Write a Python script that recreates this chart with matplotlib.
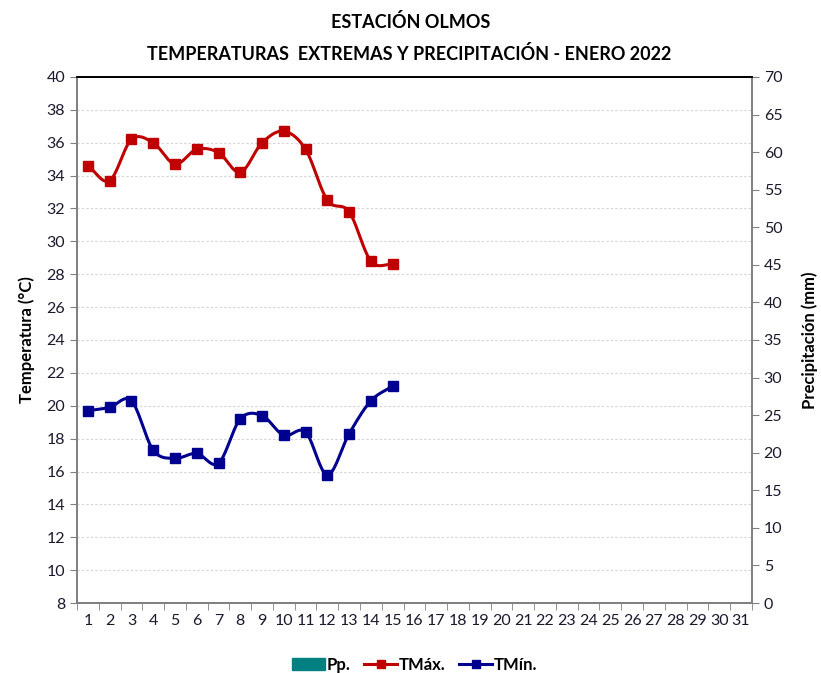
import numpy as np
import matplotlib
matplotlib.use("Agg")
import matplotlib.pyplot as plt
from matplotlib.patches import Patch
from matplotlib.lines import Line2D

plt.rcParams['font.family'] = ['Lato', 'DejaVu Sans']

# datos
dias = list(range(1, 32))
dias_obs = list(range(1, 16))
tmax = [34.6, 33.7, 36.2, 36.0, 34.7, 35.6, 35.4, 34.2, 36.0, 36.7, 35.6, 32.5, 31.8, 28.8, 28.6]
tmin = [19.7, 19.9, 20.3, 17.3, 16.8, 17.1, 16.5, 19.2, 19.4, 18.2, 18.4, 15.8, 18.3, 20.3, 21.2]
pp = [0.0] * 15

ROJO = '#c00000'
AZUL = '#000090'
VERDE = '#008080'
TXT = '#1a1a2e'


def suavizar(x, y, n=20):
    # curva tipo Excel (Catmull-Rom) entre los puntos
    x = np.asarray(x, float)
    y = np.asarray(y, float)
    px = np.concatenate([[2 * x[0] - x[1]], x, [2 * x[-1] - x[-2]]])
    py = np.concatenate([[2 * y[0] - y[1]], y, [2 * y[-1] - y[-2]]])
    xs, ys = [], []
    t = np.linspace(0, 1, n)
    for i in range(1, len(px) - 2):
        p0, p1, p2, p3 = [np.array([px[j], py[j]]) for j in range(i - 1, i + 3)]
        m1 = (p2 - p0) / 6
        m2 = (p3 - p1) / 6
        b1 = p1 + m1
        b2 = p2 - m2
        c = ((1 - t) ** 3)[:, None] * p1 + (3 * (1 - t) ** 2 * t)[:, None] * b1 \
            + (3 * (1 - t) * t ** 2)[:, None] * b2 + (t ** 3)[:, None] * p2
        xs.extend(c[:, 0])
        ys.extend(c[:, 1])
    return xs, ys


fig = plt.figure(figsize=(8.21, 6.73), dpi=100)
ax = fig.add_axes([0.0938, 0.104, 0.822, 0.7816])
ax2 = ax.twinx()

ax2.bar(dias_obs, pp, width=0.6, color=VERDE)
ax2.set_ylim(0, 70)
ax2.set_yticks(range(0, 71, 5))

ax.set_zorder(ax2.get_zorder() + 1)
ax.patch.set_visible(False)

for serie, col in [(tmax, ROJO), (tmin, AZUL)]:
    sx, sy = suavizar(dias_obs, serie)
    ax.plot(sx, sy, color=col, lw=2.2, zorder=3)
    ax.plot(dias_obs, serie, ls='none', marker='s', ms=7, color=col,
            markeredgecolor=col, zorder=4)

ax.set_xlim(0.5, 31.5)
ax.set_ylim(8, 40)
ax.set_yticks(range(8, 41, 2))
ax.set_xticks(dias)
ax.set_xticks(np.arange(0.5, 32, 1), minor=True)
ax.tick_params(axis='x', which='major', length=0, labelsize=11.5, colors=TXT, pad=8)
ax.tick_params(axis='x', which='minor', length=5, color='#808080', direction='out')
ax.tick_params(axis='y', length=5, color='#808080', labelsize=11.5, colors=TXT)
ax2.tick_params(axis='y', length=5, color='#808080', labelsize=11.5, colors=TXT)

for v in range(10, 40, 2):
    ax.axhline(v, color='#d4d4d4', lw=0.8, ls=(0, (2, 2)), zorder=0)

for a in (ax, ax2):
    for s in ['left', 'right', 'bottom']:
        a.spines[s].set_color('#808080')
        a.spines[s].set_linewidth(1.3)
    a.spines['top'].set_color('black')
    a.spines['top'].set_linewidth(1.3)

ax.set_ylabel('Temperatura (°C)', fontsize=12, fontweight='bold', color='black', labelpad=8)
ax2.set_ylabel('Precipitación (mm)', fontsize=12, fontweight='bold', color='black', labelpad=14)

fig.text(0.5, 0.968, 'ESTACIÓN OLMOS', ha='center', va='center',
         fontsize=13, fontweight='bold')
fig.text(0.498, 0.92, 'TEMPERATURAS  EXTREMAS Y PRECIPITACIÓN - ENERO 2022', ha='center',
         va='center', fontsize=13, fontweight='bold')

handles = [Patch(color=VERDE),
           Line2D([], [], color=ROJO, lw=2.2, marker='s', ms=6),
           Line2D([], [], color=AZUL, lw=2.2, marker='s', ms=6)]
fig.legend(handles, ['Pp.', 'TMáx.', 'TMín.'], loc='center', bbox_to_anchor=(0.505, 0.012),
           ncol=3, frameon=False, prop={'weight': 'bold', 'size': 12},
           handlelength=2.0, handletextpad=0.1, columnspacing=0.8)

fig.savefig('out.png', dpi=100)
